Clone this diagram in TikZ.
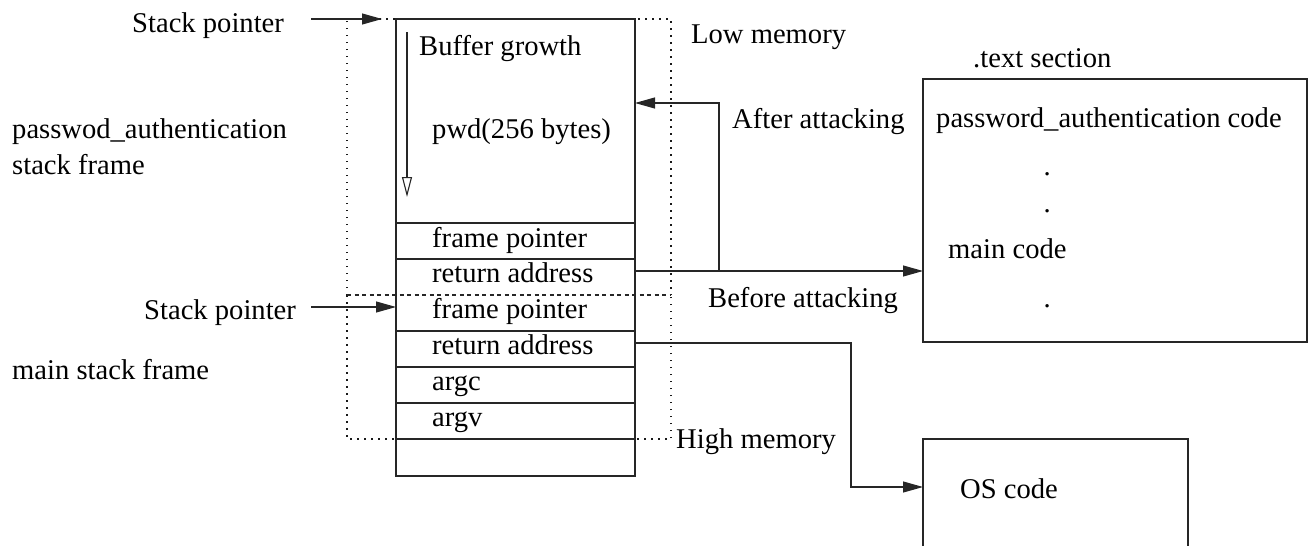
\documentclass[tikz,border=0pt]{standalone}
\usepackage{fontspec}
\setmainfont{Liberation Serif}
\usetikzlibrary{arrows.meta,calc}
\begin{document}
\begin{tikzpicture}[x=1pt,y=-1pt,
  line/.style={draw=black!85, line width=1.1pt},
  lbl/.style={anchor=base west, inner sep=0pt, font=\fontsize{28.6}{34}\selectfont},
  cell/.style={minimum width=239pt, inner sep=0pt, outer sep=0pt, anchor=north west},
  frame/.style={draw=black!90, line width=1.5pt, dash pattern=on 1.5pt off 5.5pt},
  sepline/.style={draw=black!85, line width=1.1pt, dash pattern=on 4pt off 3.5pt},
  arr/.style={line, -{Triangle[length=20pt,width=11pt]}},
  garr/.style={line, -{Triangle[open,length=20pt,width=10pt,fill=white]}},
]
\useasboundingbox (0,0) rectangle (1309,546);

% dotted stack frames
\node[cell, minimum width=324pt, minimum height=276pt] (pwf) at (347,19) {};
\node[cell, minimum width=324pt, minimum height=144pt] (mnf) at (347,295) {};
\draw[frame] (pwf.south west) -- (pwf.north west) -- (pwf.north east) -- (pwf.south east);
\draw[frame] (mnf.north west) -- (mnf.south west) -- (mnf.south east) -- (mnf.north east);
\draw[sepline] (mnf.north west) -- (mnf.north east);

% stack cells
\node[cell, minimum height=204pt] (buf) at (396,19) {};
\node[cell, minimum height=36pt] (fp1) at (396,223) {};
\node[cell, minimum height=36pt] (ra1) at (396,259) {};
\node[cell, minimum height=36pt] (fp2) at (396,295) {};
\node[cell, minimum height=36pt] (ra2) at (396,331) {};
\node[cell, minimum height=36pt] (argc) at (396,367) {};
\node[cell, minimum height=36pt] (argv) at (396,403) {};
\node[cell, minimum height=37pt] (free) at (396,439) {};
\draw[line] (buf.north west) rectangle (free.south east);
\foreach \c in {fp1,ra1,ra2,argc,argv,free} \draw[line] (\c.north west) -- (\c.north east);

% cell labels
\node[lbl] (tbuf) at (419,55) {Buffer growth};
\node[lbl] (tpwd) at (432,138) {pwd(256 bytes)};
\node[lbl] (tfp1) at (432,247) {frame pointer};
\node[lbl] (tra1) at (432,282) {return address};
\node[lbl] (tfp2) at (432,318) {frame pointer};
\node[lbl] (tra2) at (432,354) {return address};
\node[lbl] (targc) at (432,390) {argc};
\node[lbl] (targv) at (432,426) {argv};

% side labels
\node[lbl] (sp1) at (132,32) {Stack pointer};
\node[lbl] (sp2) at (144,319) {Stack pointer};
\node[lbl] (pwa) at (12,138) {passwod\_authentication};
\node[lbl] (pwb) at (12,174) {stack frame};
\node[lbl] (msf) at (12,379) {main stack frame};
\node[lbl] (low) at (691,43) {Low memory};
\node[lbl] (high) at (676,448) {High memory};
\node[lbl] (after) at (732,128) {After attacking};
\node[lbl] (before) at (708,307) {Before attacking};

% .text section
\node[cell, minimum width=384pt, minimum height=263pt, line] (txt) at (923,79) {};
\node[lbl] (txtt) at (973,67) {.text section};
\node[lbl] (pac) at (936,127) {password\_authentication code};
\node[lbl] (d1) at (1043.5,175) {.};
\node[lbl] (d2) at (1043.5,212) {.};
\node[lbl] (mc) at (948,258) {main code};
\node[lbl] (d3) at (1043.5,307) {.};

% OS code
\node[cell, minimum width=265pt, minimum height=107pt] (os) at (923,439) {};
\draw[line] (os.south west) -- (os.north west) -- (os.north east) -- (os.south east);
\node[lbl] (osc) at (960,498) {OS code};

% connectors
\coordinate (p1) at ([yshift=6pt]ra1.east);
\coordinate (p2) at ([yshift=6pt]ra2.east);
\coordinate (k1) at (719,103);
\coordinate (k2) at (851,487);
\coordinate (s1) at (311,19);
\coordinate (s2) at (311,307);
\draw[arr] (p1) -- (p1 -| txt.west);
\draw[arr] (p1) -| (k1) -- (k1 -| buf.east);
\draw[arr] (p2) -| (k2) -- (k2 -| os.west);
\draw[arr] (s1) -- ([xshift=-14pt]buf.north west);
\draw[arr] (s2) -- (s2 -| fp2.west);
\draw[garr] ($(buf.north west)+(11,13)$) -- ($(buf.north west)+(11,178)$);
\end{tikzpicture}
\end{document}
